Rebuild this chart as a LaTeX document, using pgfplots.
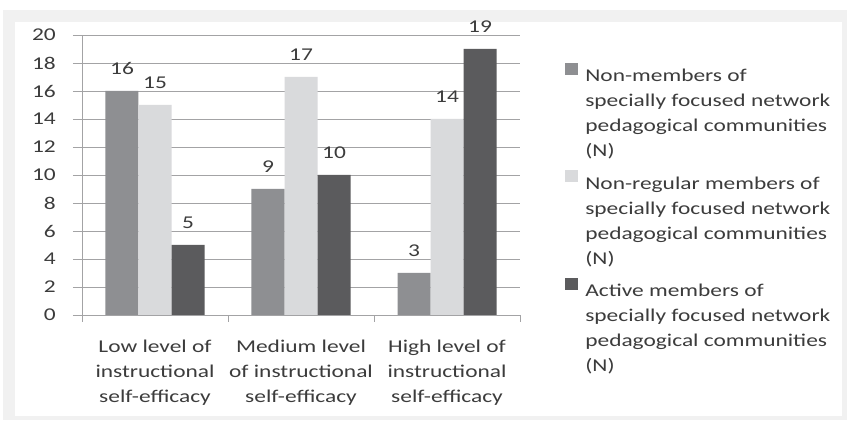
\documentclass[border=0pt]{standalone}
\usepackage{fontspec}
\setmainfont{Carlito}[FakeStretch=1.3]
\usepackage{pgfplots}
\pgfplotsset{compat=1.18}

\definecolor{nonmem}{HTML}{8E8F92}
\definecolor{nonreg}{HTML}{D9DADC}
\definecolor{active}{HTML}{5B5B5D}
\definecolor{gridc}{HTML}{A3A3A5}
\definecolor{txt}{HTML}{3C3C3C}
\definecolor{frame}{HTML}{F1F1F1}

\newcommand{\leg}[1]{\begin{tabular}[t]{@{}l@{}}#1\end{tabular}}

\begin{document}
\fontsize{18}{25}\selectfont
\begin{tikzpicture}
  % page background and the light frame round the chart
  \fill[white] (0pt,0pt) rectangle (847pt,423pt);
  \fill[frame] (3pt,3pt) rectangle (847pt,413pt);
  \fill[white] (15pt,7pt) rectangle (842pt,401pt);
  \path[use as bounding box] (0pt,0pt) rectangle (847pt,423pt);

  \begin{axis}[
    at={(82pt,108pt)}, anchor=south west,
    width=438pt, height=280pt, scale only axis,
    ymin=0, ymax=20, ytick={0,2,...,20},
    xmin=-0.5, xmax=2.5,
    xtick={0,1,2},
    xticklabels={Low level of\\instructional\\self-efficacy,
                 Medium level\\of instructional\\self-efficacy,
                 High level of\\instructional\\self-efficacy},
    minor xtick={-0.5,0.5,1.5,2.5},
    major x tick style={draw=none},
    minor tick length=7pt,
    major tick length=9pt,
    tick align=outside,
    axis x line*=bottom, axis y line*=left,
    axis line style={gridc, line width=0.9pt, -},
    every tick/.style={gridc, line width=0.9pt},
    ymajorgrids,
    major grid style={gridc, line width=0.9pt},
    /pgf/number format/assume math mode=true,
    tick label style={font=\fontsize{18}{25}\selectfont, text=txt},
    xticklabel style={align=center, yshift=-10pt},
    yticklabel style={xshift=-11pt},
    ybar=0pt, bar width=33pt,
    nodes near coords,
    every node near coord/.append style={font=\fontsize{18}{25}\selectfont,
      text=txt, yshift=10pt},
    legend style={at={(1.103,0.902)}, anchor=north west, draw=none, fill=none,
      inner sep=0pt, row sep=86pt, column sep=7pt,
      nodes={inner sep=0pt, text=txt, font=\fontsize{18}{25}\selectfont}},
    legend cell align=left,
    legend image code/.code={\fill[#1,draw=none] (0pt,-0.5pt) rectangle (13pt,11.5pt);},
  ]
    \addplot[fill=nonmem, draw=none] coordinates {(0,16) (1,9) (2,3)};
    \addplot[fill=nonreg, draw=none] coordinates {(0,15) (1,17) (2,14)};
    \addplot[fill=active, draw=none] coordinates {(0,5) (1,10) (2,19)};
    \legend{\leg{Non-members of\\specially focused network\\pedagogical communities\\(N)},
            \leg{Non-regular members of\\specially focused network\\pedagogical communities\\(N)},
            \leg{Active members of\\specially focused network\\pedagogical communities\\(N)}}
  \end{axis}
\end{tikzpicture}
\end{document}
